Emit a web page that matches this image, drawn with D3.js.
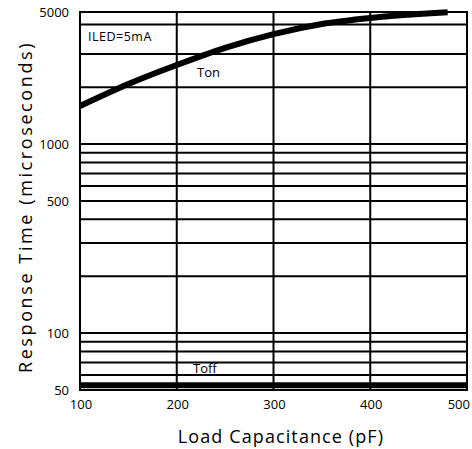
<!DOCTYPE html>
<html>
<head>
<meta charset="utf-8">
<script src="https://cdn.jsdelivr.net/npm/d3@7"></script>
<style>
  html, body { margin: 0; padding: 0; background: #fff; }
  svg { display: block; }
  text { font-family: "Open Sans", "DejaVu Sans", sans-serif; fill: #000; }
</style>
</head>
<body>
<svg id="chart" width="472" height="449"></svg>
<script>
// ---- data ----
const xTicks = [100, 200, 300, 400, 500];
const yGrid = [50, 60, 70, 80, 90, 100, 200, 300, 400, 500, 600, 700, 800, 900, 1000, 2000, 3000, 4300, 5000];
const yTickLabels = [50, 100, 500, 1000, 5000];
const tonCap = [100, 150, 200, 250, 300, 350, 400, 450, 480];
const tonTime = [1590, 2080, 2620, 3230, 3820, 4320, 4650, 4880, 4990];
const toffCap = [100, 500];
const toffTime = [53, 53];
const xTitle = "Load Capacitance (pF)";
const yTitle = "Response Time (microseconds)";
const condition = "ILED=5mA";

// ---- layout ----
const svg = d3.select("#chart");
const pLeft = 80, pRight = 467, pTop = 12, pBottom = 390;

const x = d3.scaleLinear().domain([100, 500]).range([pLeft, pRight]);
const y = d3.scaleLog().domain([50, 5000]).range([pBottom, pTop]);

const g = svg.append("g");

// horizontal grid
g.selectAll("line.h").data(yGrid).enter().append("line")
  .attr("x1", pLeft).attr("x2", pRight)
  .attr("y1", d => y(d)).attr("y2", d => y(d))
  .attr("stroke", "#000").attr("stroke-width", 2);

// vertical grid
g.selectAll("line.v").data(xTicks).enter().append("line")
  .attr("x1", d => x(d)).attr("x2", d => x(d))
  .attr("y1", pTop).attr("y2", pBottom)
  .attr("stroke", "#000").attr("stroke-width", 2);

// frame
g.append("rect").attr("x", pLeft).attr("y", pTop)
  .attr("width", pRight - pLeft).attr("height", pBottom - pTop)
  .attr("fill", "none").attr("stroke", "#000").attr("stroke-width", 2);

// x tick labels
g.selectAll("text.xt").data(xTicks).enter().append("text")
  .attr("x", (d, i) => i === xTicks.length - 1 ? x(d) + 3 : x(d) + 1)
  .attr("y", 409)
  .attr("text-anchor", (d, i) => i === xTicks.length - 1 ? "end" : "middle")
  .attr("font-size", 13)
  .text(d => d);

// y tick labels
g.selectAll("text.yt").data(yTickLabels).enter().append("text")
  .attr("x", 69)
  .attr("y", d => y(d))
  .attr("dy", "0.35em")
  .attr("text-anchor", "end")
  .attr("font-size", 13)
  .text(d => d);

// curves
const line = d3.line().x(d => x(d[0])).y(d => y(d[1])).curve(d3.curveMonotoneX);
g.append("path").datum(tonCap.map((c, i) => [c, tonTime[i]]))
  .attr("d", line).attr("fill", "none").attr("stroke", "#000")
  .attr("stroke-width", 6);
g.append("path").datum(toffCap.map((c, i) => [c, toffTime[i]]))
  .attr("d", line).attr("fill", "none").attr("stroke", "#000")
  .attr("stroke-width", 6);

// labels
g.append("text").attr("x", 88).attr("y", 41).attr("font-size", 12.5)
  .attr("letter-spacing", 0.5).text(condition);
g.append("text").attr("x", 197).attr("y", 77).attr("font-size", 13).text("Ton");
g.append("text").attr("x", 193).attr("y", 373).attr("font-size", 13).text("Toff");

// axis titles
svg.append("text").attr("x", 281).attr("y", 443)
  .attr("text-anchor", "middle").attr("font-size", 18)
  .attr("letter-spacing", 1.1).text(xTitle);
svg.append("text")
  .attr("transform", "translate(32,207) rotate(-90)")
  .attr("text-anchor", "middle").attr("font-size", 18)
  .attr("letter-spacing", 2.6).text(yTitle);
</script>
</body>
</html>
